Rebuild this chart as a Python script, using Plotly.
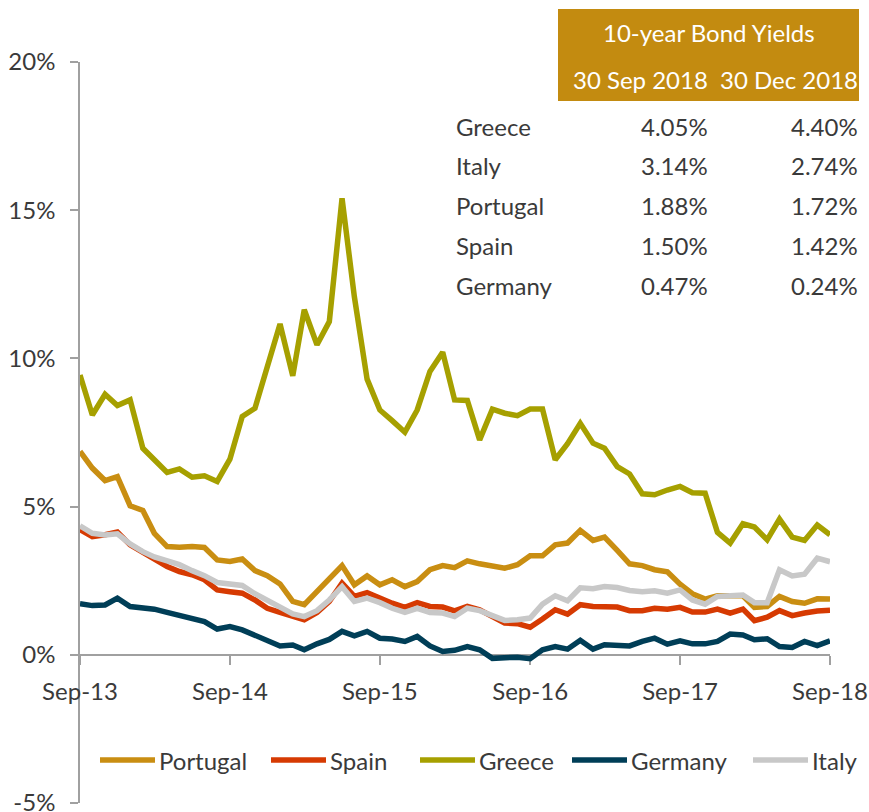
import pandas as pd
import plotly.graph_objects as go

# ---------------- data ----------------
months = pd.date_range("2013-09-01", "2018-09-01", freq="MS")

portugal = [6.86, 6.30, 5.88, 6.01, 5.03, 4.87, 4.10, 3.65, 3.63, 3.65, 3.62, 3.20, 3.15, 3.23, 2.84, 2.67,
            2.39, 1.80, 1.69, 2.13, 2.60, 3.01, 2.36, 2.66, 2.36, 2.53, 2.30, 2.47, 2.87, 3.01, 2.94, 3.17,
            3.07, 3.01, 2.92, 3.04, 3.34, 3.34, 3.71, 3.77, 4.20, 3.86, 3.97, 3.52, 3.07, 3.01, 2.87, 2.80,
            2.38, 2.06, 1.88, 1.99, 1.99, 1.99, 1.60, 1.63, 1.97, 1.80, 1.74, 1.89, 1.88]
spain = [4.22, 3.99, 4.05, 4.14, 3.71, 3.45, 3.20, 2.98, 2.81, 2.70, 2.53, 2.19, 2.13, 2.08, 1.85, 1.57,
         1.43, 1.29, 1.18, 1.43, 1.80, 2.42, 1.97, 2.10, 1.91, 1.74, 1.60, 1.76, 1.63, 1.61, 1.48, 1.63,
         1.52, 1.29, 1.07, 1.05, 0.93, 1.21, 1.52, 1.37, 1.69, 1.63, 1.63, 1.61, 1.49, 1.49, 1.57, 1.54,
         1.60, 1.44, 1.44, 1.54, 1.41, 1.54, 1.15, 1.27, 1.49, 1.32, 1.41, 1.48, 1.50]
greece = [9.44, 8.09, 8.79, 8.41, 8.60, 6.97, 6.58, 6.15, 6.27, 5.99, 6.04, 5.85, 6.60, 8.04, 8.32, 9.72,
          11.16, 9.41, 11.64, 10.46, 11.24, 15.40, 12.08, 9.30, 8.26, 7.90, 7.51, 8.26, 9.56, 10.21, 8.60, 8.58,
          7.25, 8.29, 8.15, 8.07, 8.29, 8.29, 6.58, 7.12, 7.81, 7.14, 6.97, 6.35, 6.10, 5.43, 5.40, 5.56,
          5.68, 5.47, 5.45, 4.13, 3.77, 4.42, 4.31, 3.88, 4.58, 3.97, 3.86, 4.38, 4.05]
germany = [1.72, 1.66, 1.68, 1.91, 1.63, 1.60, 1.54, 1.43, 1.32, 1.20, 1.12, 0.87, 0.95, 0.84, 0.67, 0.51,
           0.30, 0.33, 0.17, 0.37, 0.52, 0.79, 0.64, 0.79, 0.56, 0.53, 0.45, 0.62, 0.30, 0.11, 0.15, 0.28,
           0.17, -0.12, -0.12, -0.08, -0.13, 0.17, 0.28, 0.19, 0.49, 0.19, 0.34, 0.34, 0.30, 0.45, 0.56, 0.36,
           0.47, 0.37, 0.37, 0.45, 0.70, 0.67, 0.51, 0.54, 0.28, 0.25, 0.45, 0.31, 0.47]
italy = [4.35, 4.10, 4.04, 4.08, 3.74, 3.48, 3.30, 3.15, 3.04, 2.84, 2.67, 2.44, 2.38, 2.34, 2.06, 1.85,
         1.60, 1.38, 1.29, 1.49, 1.85, 2.30, 1.80, 1.91, 1.76, 1.57, 1.43, 1.57, 1.43, 1.41, 1.29, 1.57,
         1.49, 1.33, 1.16, 1.18, 1.24, 1.71, 1.99, 1.82, 2.26, 2.23, 2.30, 2.27, 2.17, 2.13, 2.16, 2.08,
         2.19, 1.85, 1.71, 1.97, 2.00, 2.02, 1.76, 1.76, 2.87, 2.66, 2.72, 3.26, 3.14]

series_names = ["Portugal", "Spain", "Greece", "Germany", "Italy"]
series_values = [portugal, spain, greece, germany, italy]
series_colors = ["#C98E12", "#D63A02", "#A6A000", "#003E57", "#C8C8C8"]

y_ticks = [-5, 0, 5, 10, 15, 20]
y_tick_labels = ["-5%", "0%", "5%", "10%", "15%", "20%"]
x_ticks = ["2013-09-01", "2014-09-01", "2015-09-01", "2016-09-01", "2017-09-01", "2018-09-01"]
x_tick_labels = ["Sep-13", "Sep-14", "Sep-15", "Sep-16", "Sep-17", "Sep-18"]

table_title = "10-year Bond Yields"
table_cols = ["30 Sep 2018", "30 Dec 2018"]
table_countries = ["Greece", "Italy", "Portugal", "Spain", "Germany"]
table_sep = ["4.05%", "3.14%", "1.88%", "1.50%", "0.47%"]
table_dec = ["4.40%", "2.74%", "1.72%", "1.42%", "0.24%"]

# ---------------- figure ----------------
W, H = 869, 812
L, R, T, B = 80, 39, 62, 9
PW, PH = W - L - R, H - T - B
FONT = "Lato"
FS = 24
TXT = "#3A3A3A"
AXC = "#A0A0A0"
GOLD = "#C38B10"
Y_RANGE = [-5, 20]


def px(xp):
    return (xp - L) / PW


def py(yp):
    return (H - B - yp) / PH


fig = go.Figure()
for name, vals, col in zip(series_names, series_values, series_colors):
    fig.add_trace(go.Scatter(x=months, y=vals, mode="lines", name=name,
                             line=dict(color=col, width=5.5)))

fig.update_layout(
    width=W, height=H,
    margin=dict(l=L, r=R, t=T, b=B, autoexpand=False),
    paper_bgcolor="white", plot_bgcolor="white",
    font=dict(family=FONT, size=FS, color=TXT),
    showlegend=False,
)

zero_frac = (0 - Y_RANGE[0]) / (Y_RANGE[1] - Y_RANGE[0])

fig.update_xaxes(
    type="date",
    range=["2013-09-01", "2018-09-01"],
    tickvals=x_ticks, ticktext=x_tick_labels,
    anchor="free", position=zero_frac,
    showline=True, linecolor=AXC, linewidth=1.5,
    ticks="outside", ticklen=9, tickcolor=AXC, tickwidth=1.5,
    showgrid=False, zeroline=False, automargin=False,
    ticklabelstandoff=7, ticklabeloverflow="allow",
    tickfont=dict(size=FS, color=TXT),
    layer="below traces",
)
fig.update_yaxes(
    range=Y_RANGE, tickvals=y_ticks, ticktext=y_tick_labels,
    showline=True, linecolor=AXC, linewidth=1.5,
    ticks="outside", ticklen=8, tickcolor=AXC, tickwidth=1.5,
    showgrid=False, zeroline=False, automargin=False,
    ticklabelstandoff=10, ticklabeloverflow="allow",
    tickfont=dict(size=FS, color=TXT),
    layer="below traces",
)

ann = []

# ---------------- legend (drawn below the zero line, inside the plot) ----------------
leg_x = [100, 271, 420, 572, 753]
leg_y = 760
for name, col, x0 in zip(series_names, series_colors, leg_x):
    fig.add_shape(type="line", xref="paper", yref="paper",
                  x0=px(x0), x1=px(x0 + 55), y0=py(leg_y), y1=py(leg_y),
                  line=dict(color=col, width=5.5))
    ann.append(dict(text=name, x=px(x0 + 57), y=py(leg_y), xanchor="left", yanchor="middle",
                    font=dict(color=TXT, size=FS)))

# ---------------- table (header box + text) ----------------
fig.add_shape(type="rect", xref="paper", yref="paper",
              x0=px(558), x1=px(859), y0=py(101), y1=py(9),
              fillcolor=GOLD, line=dict(width=0), layer="above")

ann.append(dict(text=table_title, x=px(709), y=py(33), xanchor="center", yanchor="middle",
                font=dict(color="white", size=FS)))
ann.append(dict(text=table_cols[0], x=px(710), y=py(79), xanchor="right", yanchor="middle",
                font=dict(color="white", size=FS)))
ann.append(dict(text=table_cols[1], x=px(860), y=py(79), xanchor="right", yanchor="middle",
                font=dict(color="white", size=FS)))
row_y = [126, 165, 205, 245, 285]
for c, s, d, yy in zip(table_countries, table_sep, table_dec, row_y):
    ann.append(dict(text=c, x=px(454), y=py(yy), xanchor="left", yanchor="middle",
                    font=dict(color=TXT, size=FS)))
    ann.append(dict(text=s, x=px(710), y=py(yy), xanchor="right", yanchor="middle",
                    font=dict(color=TXT, size=FS)))
    ann.append(dict(text=d, x=px(860), y=py(yy), xanchor="right", yanchor="middle",
                    font=dict(color=TXT, size=FS)))
for a in ann:
    a.update(xref="paper", yref="paper", showarrow=False)
fig.update_layout(annotations=ann)

fig.write_html(
    "out.html",
    config={"displayModeBar": False},
    post_script="document.body.style.margin='0px';document.body.style.padding='0px';"
                "document.documentElement.style.overflow='hidden';",
)
